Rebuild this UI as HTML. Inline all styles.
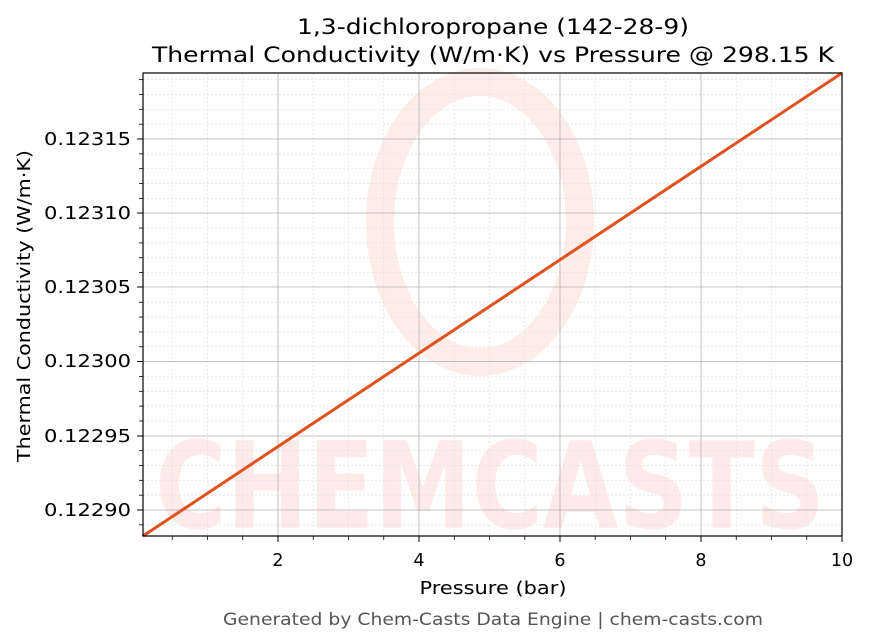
<!DOCTYPE html>
<html><head><meta charset="utf-8"><style>body{margin:0;background:#fff}svg{display:block}</style></head><body>
<svg width="869" height="644" xmlns="http://www.w3.org/2000/svg" font-family="DejaVu Sans, Liberation Sans, sans-serif">
<rect width="869" height="644" fill="#fff"/>
<g opacity="0.45">
<ellipse cx="480" cy="222" rx="100" ry="140" fill="none" stroke="#fdd5cf" stroke-width="28"/>
<text x="490" y="528" font-size="120" font-weight="bold" fill="#fdd5cf" text-anchor="middle" textLength="670" lengthAdjust="spacingAndGlyphs">CHEMCASTS</text>
</g>
<g stroke="#e0e0e0" stroke-width="0.7" stroke-dasharray="2,2">
<line x1="172.25" y1="73" x2="172.25" y2="536"/><line x1="207.5" y1="73" x2="207.5" y2="536"/><line x1="242.75" y1="73" x2="242.75" y2="536"/>
<line x1="313.25" y1="73" x2="313.25" y2="536"/><line x1="348.5" y1="73" x2="348.5" y2="536"/><line x1="383.75" y1="73" x2="383.75" y2="536"/>
<line x1="454.25" y1="73" x2="454.25" y2="536"/><line x1="489.5" y1="73" x2="489.5" y2="536"/><line x1="524.75" y1="73" x2="524.75" y2="536"/>
<line x1="595.25" y1="73" x2="595.25" y2="536"/><line x1="630.5" y1="73" x2="630.5" y2="536"/><line x1="665.75" y1="73" x2="665.75" y2="536"/>
<line x1="736.25" y1="73" x2="736.25" y2="536"/><line x1="771.5" y1="73" x2="771.5" y2="536"/><line x1="806.75" y1="73" x2="806.75" y2="536"/>
</g>
<g id="ym" stroke="#e0e0e0" stroke-width="0.7" stroke-dasharray="2,2"></g>
<g stroke="#b0b0b0" stroke-width="0.8">
<line x1="278" y1="73" x2="278" y2="536"/><line x1="419" y1="73" x2="419" y2="536"/><line x1="560" y1="73" x2="560" y2="536"/><line x1="701" y1="73" x2="701" y2="536"/>
<line x1="143" y1="139" x2="842" y2="139"/><line x1="143" y1="213" x2="842" y2="213"/><line x1="143" y1="287" x2="842" y2="287"/><line x1="143" y1="361.5" x2="842" y2="361.5"/><line x1="143" y1="436" x2="842" y2="436"/><line x1="143" y1="510" x2="842" y2="510"/>
</g>
<line x1="143" y1="536" x2="842" y2="73" stroke="#e0521f" stroke-width="3"/>
<rect x="143" y="73" width="699" height="463" fill="none" stroke="#000" stroke-width="1.2"/>
<g stroke="#000" stroke-width="1">
<line x1="278" y1="536" x2="278" y2="542"/><line x1="419" y1="536" x2="419" y2="542"/><line x1="560" y1="536" x2="560" y2="542"/><line x1="701" y1="536" x2="701" y2="542"/><line x1="842" y1="536" x2="842" y2="542"/>
<line x1="137" y1="139" x2="143" y2="139"/><line x1="137" y1="213" x2="143" y2="213"/><line x1="137" y1="287" x2="143" y2="287"/><line x1="137" y1="361.5" x2="143" y2="361.5"/><line x1="137" y1="436" x2="143" y2="436"/><line x1="137" y1="510" x2="143" y2="510"/>
</g>
<g id="mt" stroke="#000" stroke-width="0.8"></g>
<g font-size="17.5" fill="#000">
<g text-anchor="middle"><text x="278" y="566">2</text><text x="419" y="566">4</text><text x="560" y="566">6</text><text x="701" y="566">8</text><text x="842" y="566">10</text></g>
<g text-anchor="end"><text x="131" y="145" textLength="87" lengthAdjust="spacingAndGlyphs">0.12315</text><text x="131" y="219" textLength="87" lengthAdjust="spacingAndGlyphs">0.12310</text><text x="131" y="293" textLength="87" lengthAdjust="spacingAndGlyphs">0.12305</text><text x="131" y="367" textLength="87" lengthAdjust="spacingAndGlyphs">0.12300</text><text x="131" y="442" textLength="87" lengthAdjust="spacingAndGlyphs">0.12295</text><text x="131" y="516" textLength="87" lengthAdjust="spacingAndGlyphs">0.12290</text></g>
<text x="493" y="594" text-anchor="middle" textLength="147" lengthAdjust="spacingAndGlyphs">Pressure (bar)</text>
<text transform="translate(30,306) rotate(-90)" text-anchor="middle" textLength="312" lengthAdjust="spacingAndGlyphs">Thermal Conductivity (W/m·K)</text>
<text x="493" y="34" text-anchor="middle" font-size="21" textLength="392" lengthAdjust="spacingAndGlyphs">1,3-dichloropropane (142-28-9)</text>
<text x="493" y="62" text-anchor="middle" font-size="21" textLength="682" lengthAdjust="spacingAndGlyphs">Thermal Conductivity (W/m·K) vs Pressure @ 298.15 K</text>
<text x="493" y="625" text-anchor="middle" font-size="16.5" fill="#555" textLength="540" lengthAdjust="spacingAndGlyphs">Generated by Chem-Casts Data Engine | chem-casts.com</text>
</g>
<script>
var ym=document.getElementById('ym'),mt=document.getElementById('mt'),ns='http://www.w3.org/2000/svg';
function L(g,a,b,c,d){var l=document.createElementNS(ns,'line');l.setAttribute('x1',a);l.setAttribute('y1',b);l.setAttribute('x2',c);l.setAttribute('y2',d);g.appendChild(l);}
for(var i=-1;i<32;i++){var y=510-i*14.84;if(y<74||y>535||i%5==0)continue;L(ym,143,y,842,y);L(mt,139,y,143,y);}
for(var k=1;k<20;k++){if(k%4==0)continue;var x=137+k*35.25;if(x<144)continue;L(mt,x,536,x,540);}
</script>
</svg>
</body></html>
